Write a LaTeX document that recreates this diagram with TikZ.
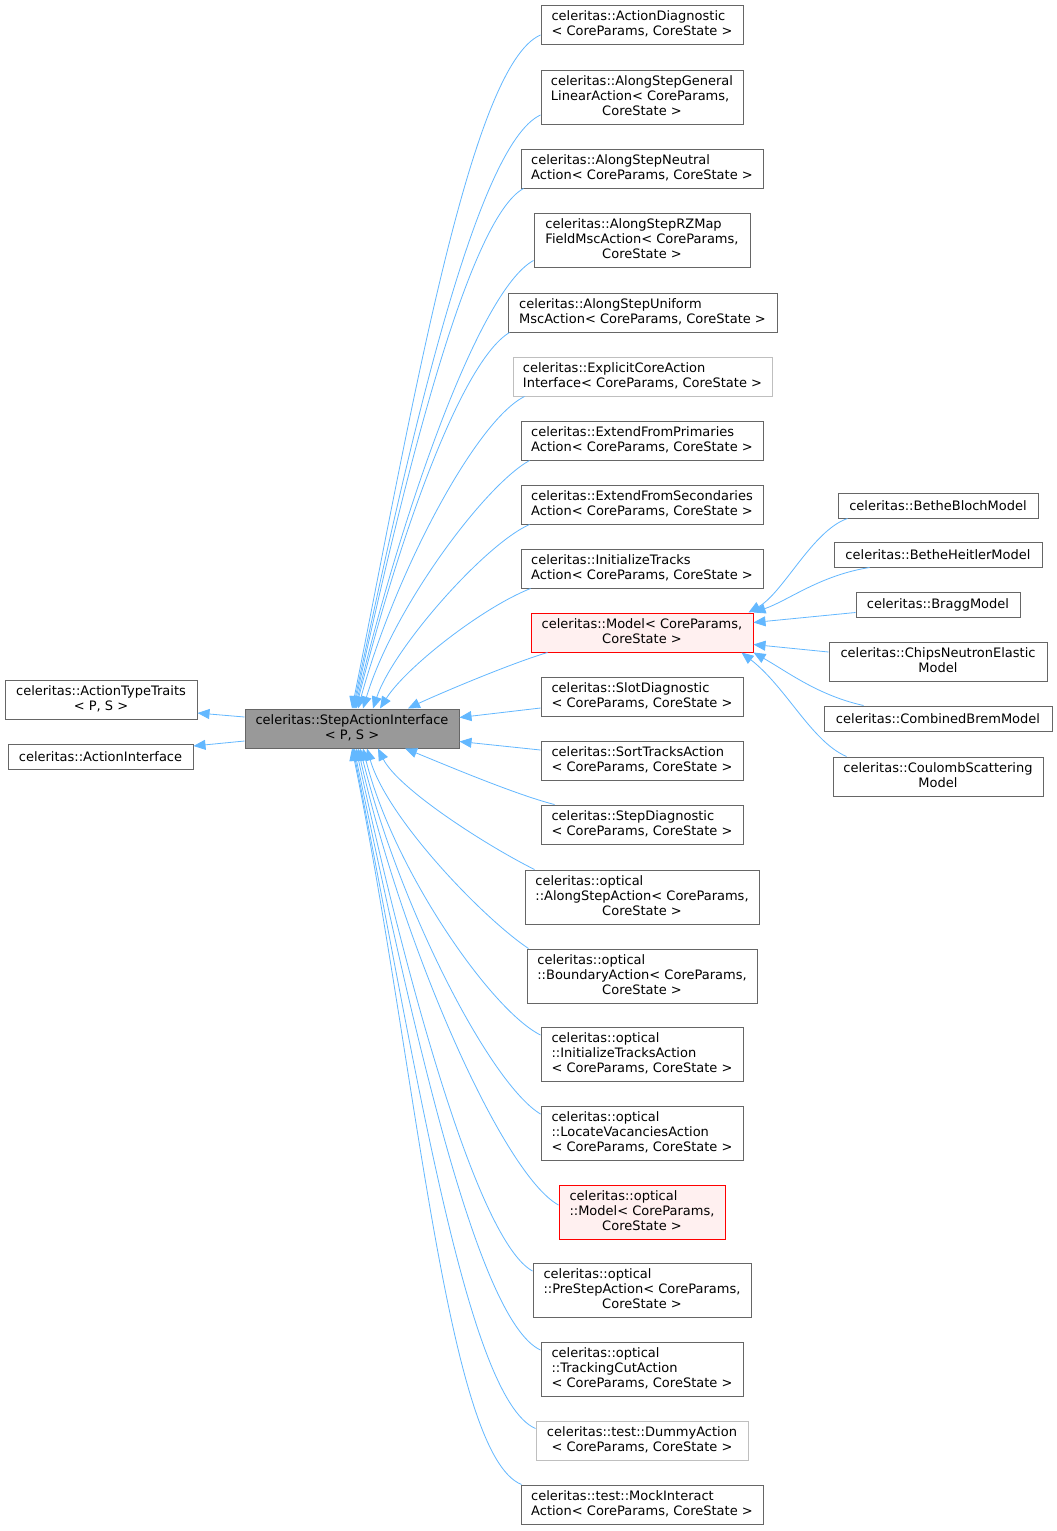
\documentclass[tikz,border=0pt]{standalone}
\usepackage{fontspec}
\newfontfamily\dvs{DejaVu Sans}
\usetikzlibrary{arrows.meta}
\definecolor{inhblue}{HTML}{63B8FF}
\definecolor{clsline}{HTML}{666666}
\definecolor{undocline}{HTML}{BFBFBF}
\definecolor{curfill}{HTML}{999999}
\definecolor{mdlfill}{HTML}{FFF0F0}
% class label: all lines left, last line centred
\newcommand{\cls}[2]{\begin{tabular}{@{}l@{}}#1\\\multicolumn{1}{@{}c@{}}{#2}\end{tabular}}

\begin{document}
\begin{tikzpicture}[x=1pt,y=-1pt,
	box/.style={draw=clsline,fill=white,line width=1pt,inner sep=0pt,
		font={\dvs\fontsize{13}{15}\selectfont},minimum height=39pt},
	tall/.style={minimum height=54pt},
	flat/.style={minimum height=25pt},
	undoc/.style={draw=undocline},
	cur/.style={fill=curfill},
	mdl/.style={draw=red,fill=mdlfill},
	inh/.style={draw=inhblue,line width=0.8pt,-{Triangle[length=12pt,width=10pt]}}]
\fill[white] (0,0) rectangle (1057,1531);
\useasboundingbox (0,0) rectangle (1057,1531);

% bases
\node[box,minimum width=192pt] (att) at (101,700) {\cls{celeritas::ActionTypeTraits}{< P, S >}};
\node[box,flat,minimum width=185pt] (ai) at (100.5,756.5) {celeritas::ActionInterface};
\node[box,cur,minimum width=214pt] (sai) at (352,728.5) {\cls{celeritas::StepActionInterface}{< P, S >}};

% derived
\node[box,minimum width=202pt] (adiag) at (642,25) {\cls{celeritas::ActionDiagnostic}{< CoreParams, CoreState >}};
\node[box,tall,minimum width=202pt] (asgl) at (642,97) {\cls{celeritas::AlongStepGeneral\\LinearAction< CoreParams,}{CoreState >}};
\node[box,minimum width=242pt] (asn) at (642,168.5) {\cls{celeritas::AlongStepNeutral}{Action< CoreParams, CoreState >}};
\node[box,tall,minimum width=216pt] (asrz) at (642,240.5) {\cls{celeritas::AlongStepRZMap\\FieldMscAction< CoreParams,}{CoreState >}};
\node[box,minimum width=269pt] (asu) at (642.5,312.5) {\cls{celeritas::AlongStepUniform}{MscAction< CoreParams, CoreState >}};
\node[box,undoc,minimum width=259pt] (eca) at (642.5,376.5) {\cls{celeritas::ExplicitCoreAction}{Interface< CoreParams, CoreState >}};
\node[box,minimum width=242pt] (efp) at (642,440.5) {\cls{celeritas::ExtendFromPrimaries}{Action< CoreParams, CoreState >}};
\node[box,minimum width=242pt] (efs) at (642,504.5) {\cls{celeritas::ExtendFromSecondaries}{Action< CoreParams, CoreState >}};
\node[box,minimum width=242pt] (itr) at (642,568.5) {\cls{celeritas::InitializeTracks}{Action< CoreParams, CoreState >}};
\node[box,mdl,minimum width=222pt] (model) at (642,632.5) {\cls{celeritas::Model< CoreParams,}{CoreState >}};
\node[box,minimum width=202pt] (slot) at (642,696.5) {\cls{celeritas::SlotDiagnostic}{< CoreParams, CoreState >}};
\node[box,minimum width=202pt] (sort) at (642,760.5) {\cls{celeritas::SortTracksAction}{< CoreParams, CoreState >}};
\node[box,minimum width=202pt] (sdiag) at (642,824.5) {\cls{celeritas::StepDiagnostic}{< CoreParams, CoreState >}};
\node[box,tall,minimum width=234pt] (oas) at (642,897) {\cls{celeritas::optical\\::AlongStepAction< CoreParams,}{CoreState >}};
\node[box,tall,minimum width=230pt] (obd) at (642,976) {\cls{celeritas::optical\\::BoundaryAction< CoreParams,}{CoreState >}};
\node[box,tall,minimum width=202pt] (oit) at (642,1054) {\cls{celeritas::optical\\::InitializeTracksAction}{< CoreParams, CoreState >}};
\node[box,tall,minimum width=202pt] (olv) at (642,1133) {\cls{celeritas::optical\\::LocateVacanciesAction}{< CoreParams, CoreState >}};
\node[box,tall,mdl,minimum width=166pt] (omd) at (642,1212) {\cls{celeritas::optical\\::Model< CoreParams,}{CoreState >}};
\node[box,tall,minimum width=218pt] (ops) at (642,1290) {\cls{celeritas::optical\\::PreStepAction< CoreParams,}{CoreState >}};
\node[box,tall,minimum width=202pt] (otc) at (642,1369) {\cls{celeritas::optical\\::TrackingCutAction}{< CoreParams, CoreState >}};
\node[box,undoc,minimum width=212pt] (dum) at (642,1440.5) {\cls{celeritas::test::DummyAction}{< CoreParams, CoreState >}};
\node[box,minimum width=242pt] (mia) at (642,1504.5) {\cls{celeritas::test::MockInteract}{Action< CoreParams, CoreState >}};

% models
\node[box,flat,minimum width=200pt] (bbm) at (938,505.5) {celeritas::BetheBlochModel};
\node[box,flat,minimum width=208pt] (bhm) at (938,554.5) {celeritas::BetheHeitlerModel};
\node[box,flat,minimum width=164pt] (bragg) at (938,604.5) {celeritas::BraggModel};
\node[box,minimum width=218pt] (chips) at (938,662) {\cls{celeritas::ChipsNeutronElastic}{Model}};
\node[box,flat,minimum width=228pt] (cbm) at (938,718.5) {celeritas::CombinedBremModel};
\node[box,minimum width=210pt] (csm) at (938,776.5) {\cls{celeritas::CoulombScattering}{Model}};

% inheritance edges
\draw[inh] ([yshift=11.5pt]sai.west) -- ([yshift=-13pt]att.east);
\draw[inh] ([yshift=-12.5pt]sai.west) -- ([yshift=10.5pt]ai.east);

\draw[inh] ([yshift=-10pt]adiag.west) .. controls +(-70,30) and +(60,-300) .. (sai.north);
\draw[inh] ([yshift=-18pt]asgl.west) .. controls +(-65,30) and +(55,-260) .. ([xshift=1pt]sai.north);
\draw[inh] ([xshift=3pt]asn.south west) .. controls +(-55,30) and +(50,-230) .. ([xshift=2pt]sai.north);
\draw[inh] ([yshift=-20pt]asrz.west) .. controls +(-55,30) and +(45,-190) .. ([xshift=3pt]sai.north);
\draw[inh] ([xshift=2pt]asu.south west) .. controls +(-50,30) and +(40,-160) .. ([xshift=4pt]sai.north);
\draw[inh] ([xshift=12pt]eca.south west) .. controls +(-50,25) and +(35,-130) .. ([xshift=6pt]sai.north);
\draw[inh] ([xshift=9pt]efp.south west) .. controls +(-45,25) and +(30,-100) .. ([xshift=11pt]sai.north);
\draw[inh] ([xshift=9pt]efs.south west) .. controls +(-45,20) and +(20,-60) .. ([xshift=21pt]sai.north);
\draw[inh] ([xshift=10pt]itr.south west) .. controls +(-50,20) and +(25,-40) .. ([xshift=28pt]sai.north);
\draw[inh] ([xshift=17pt]model.south west) .. controls +(-40,12) and +(25,-12) .. ([xshift=56pt]sai.north);

\draw[inh] ([yshift=-11.5pt]slot.west) -- ([yshift=11pt]sai.east);
\draw[inh] ([yshift=10.5pt]sort.west) -- ([yshift=-13pt]sai.east);

\draw[inh] ([xshift=14pt]sdiag.north west) .. controls +(-40,-10) and +(30,12) .. ([xshift=53pt]sai.south);
\draw[inh] ([xshift=10pt]oas.north west) .. controls +(-50,-25) and +(20,40) .. ([xshift=26pt]sai.south);
\draw[inh] ([xshift=2pt]obd.north west) .. controls +(-45,-30) and +(20,70) .. ([xshift=15pt]sai.south);
\draw[inh] ([yshift=19pt]oit.west) .. controls +(-50,-25) and +(30,120) .. ([xshift=11pt]sai.south);
\draw[inh] ([yshift=19pt]olv.west) .. controls +(-50,-30) and +(40,160) .. ([xshift=8pt]sai.south);
\draw[inh] ([yshift=7pt]omd.west) .. controls +(-55,-30) and +(45,200) .. ([xshift=6pt]sai.south);
\draw[inh] ([yshift=19pt]ops.west) .. controls +(-55,-30) and +(50,230) .. ([xshift=4pt]sai.south);
\draw[inh] ([yshift=19pt]otc.west) .. controls +(-65,-30) and +(55,260) .. ([xshift=2pt]sai.south);
\draw[inh] ([yshift=12pt]dum.west) .. controls +(-70,-30) and +(60,300) .. ([xshift=1pt]sai.south);
\draw[inh] ([xshift=1pt]mia.north west) .. controls +(-75,-30) and +(65,320) .. (sai.south);

\draw[inh] ([xshift=10pt]bbm.south west) .. controls +(-35,12) and +(35,-20) .. ([xshift=-5pt]model.north east);
\draw[inh] ([xshift=36pt]bhm.south west) .. controls +(-50,8) and +(35,-12) .. (model.north east);
\draw[inh] ([yshift=-8pt]bragg.west) -- ([yshift=10pt]model.east);
\draw[inh] ([yshift=10pt]chips.west) -- ([yshift=-12pt]model.east);
\draw[inh] ([xshift=40pt]cbm.north west) .. controls +(-45,-10) and +(35,20) .. (model.south east);
\draw[inh] ([xshift=14pt]csm.north west) .. controls +(-35,-15) and +(45,35) .. ([xshift=-12pt]model.south east);
\end{tikzpicture}
\end{document}
